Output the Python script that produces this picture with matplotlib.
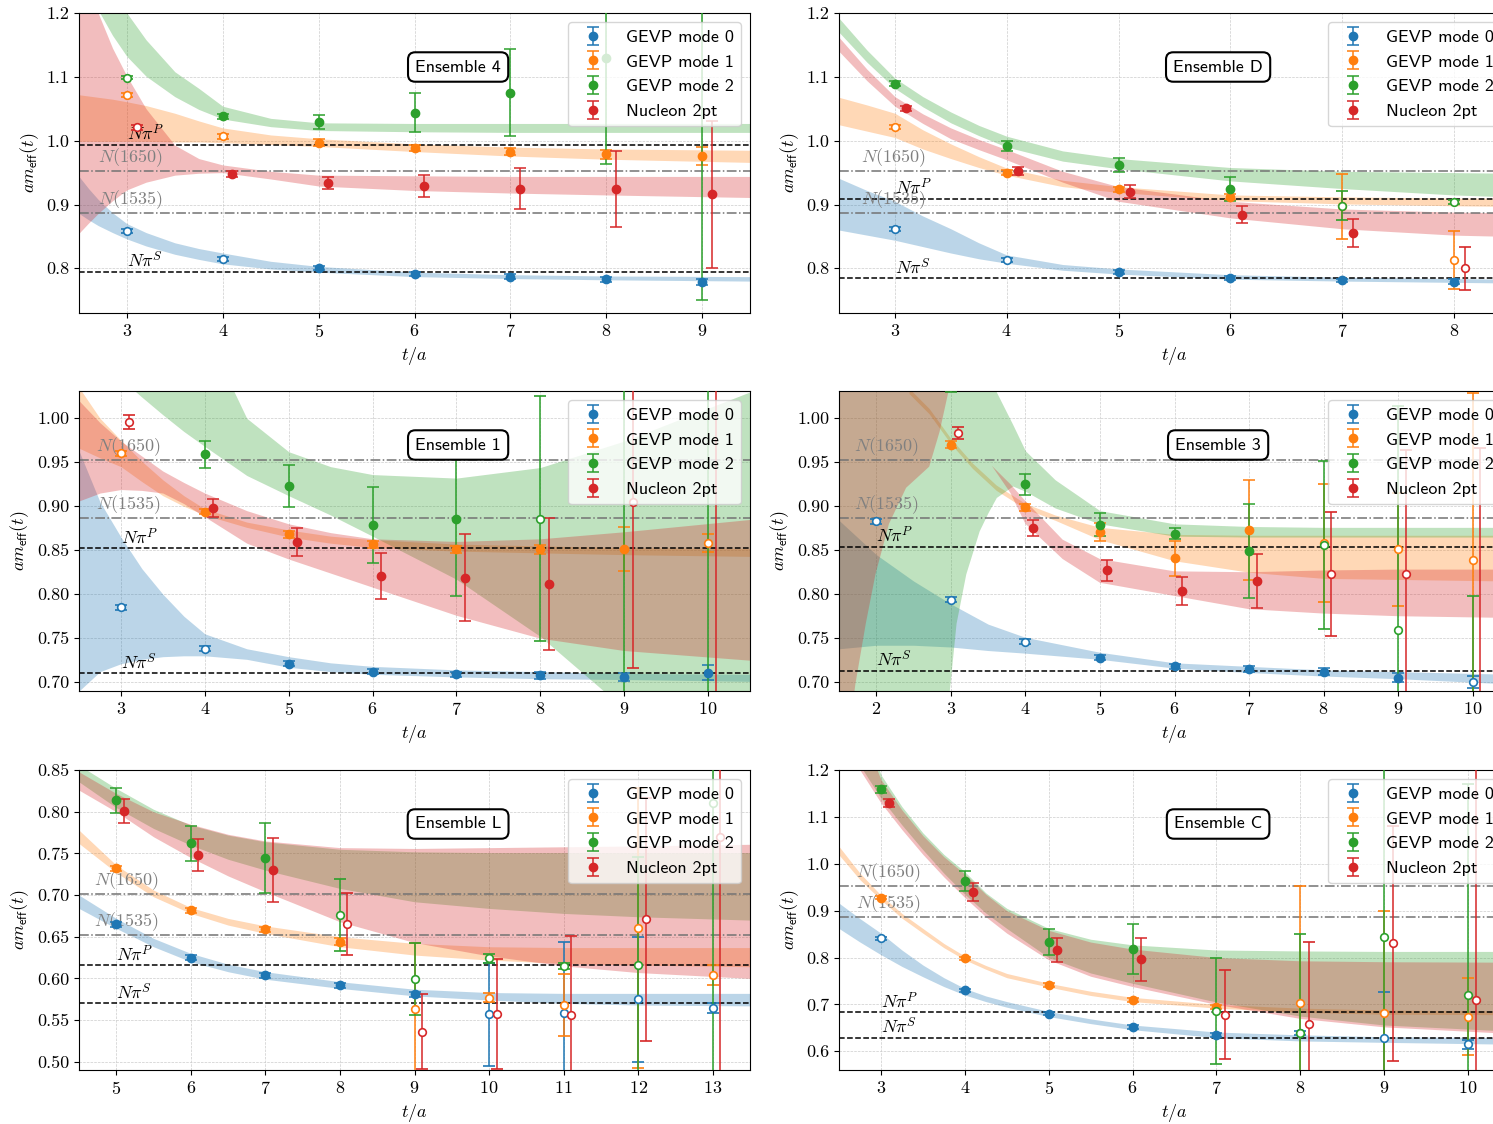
import numpy as np
import matplotlib
matplotlib.use('Agg')
import matplotlib.pyplot as plt
from matplotlib.ticker import FormatStrFormatter, MultipleLocator

plt.rcParams['font.family'] = 'serif'
plt.rcParams['font.serif'] = ['cmr10']
plt.rcParams['mathtext.fontset'] = 'cm'
plt.rcParams['axes.formatter.use_mathtext'] = True
plt.rcParams['axes.unicode_minus'] = False

nan = np.nan
COLORS = ['#1f77b4', '#ff7f0e', '#2ca02c', '#d62728']
LABELS = ['GEVP mode 0', 'GEVP mode 1', 'GEVP mode 2', 'Nucleon 2pt']
LEVEL_NAMES = [r'$N(1650)$', r'$N(1535)$', r'$N\pi^P$', r'$N\pi^S$']

# ---------------- Ensemble 4 ----------------
E4_T = [3, 4, 5, 6, 7, 8, 9]
E4_M0 = [0.858, 0.815, 0.800, 0.791, 0.787, 0.783, 0.779]
E4_E0 = [0.003, 0.003, 0.003, 0.003, 0.004, 0.004, 0.005]
E4_M1 = [1.071, 1.007, 0.997, 0.989, 0.983, 0.979, 0.976]
E4_E1 = [0.003, 0.004, 0.005, 0.005, 0.006, 0.007, 0.014]
E4_M2 = [1.099, 1.038, 1.029, 1.044, 1.075, 1.129, 1.25]
E4_E2 = [0.003, 0.004, 0.011, 0.031, 0.068, 0.165, 0.50]
E4_NUC = [1.021, 0.948, 0.934, 0.929, 0.925, 0.924, 0.916]
E4_EN = [0.004, 0.005, 0.009, 0.018, 0.032, 0.060, 0.115]
E4_FIT = [(5, 9), (5, 9), (4, 9), (4, 9)]
E4_LV = [0.953, 0.887, 0.994, 0.795]
E4_BT = [2.5, 2.6, 2.7, 2.85, 3.0, 3.2, 3.5, 3.75, 4, 4.5, 5, 6, 7, 8, 9.5]
E4_B0_LO = [0.886, 0.876, 0.867, 0.856, 0.846, 0.835, 0.822, 0.814, 0.807, 0.799, 0.794, 0.787, 0.784, 0.782, 0.780]
E4_B0_HI = [0.944, 0.925, 0.908, 0.887, 0.870, 0.856, 0.840, 0.831, 0.824, 0.811, 0.803, 0.794, 0.790, 0.788, 0.787]
E4_B1_LO = [0.999, 0.999, 0.999, 0.999, 0.999, 0.999, 0.998, 0.998, 0.997, 0.994, 0.991, 0.983, 0.976, 0.971, 0.966]
E4_B1_HI = [1.072, 1.070, 1.068, 1.065, 1.061, 1.055, 1.043, 1.031, 1.020, 1.009, 1.003, 0.995, 0.990, 0.987, 0.985]
E4_B2_LO = [1.30, 1.25, 1.205, 1.165, 1.132, 1.101, 1.069, 1.049, 1.034, 1.022, 1.016, 1.014, 1.013, 1.013, 1.013]
E4_B2_HI = [1.50, 1.42, 1.35, 1.27, 1.20, 1.158, 1.108, 1.082, 1.054, 1.035, 1.028, 1.027, 1.027, 1.027, 1.027]
E4_B3_LO = [0.855, 0.871, 0.886, 0.906, 0.923, 0.935, 0.946, 0.949, 0.950, 0.940, 0.929, 0.922, 0.918, 0.915, 0.911]
E4_B3_HI = [1.30, 1.24, 1.20, 1.145, 1.101, 1.050, 0.993, 0.972, 0.962, 0.952, 0.946, 0.945, 0.944, 0.944, 0.944]

# ---------------- Ensemble D ----------------
ED_T = [3, 4, 5, 6, 7, 8]
ED_M0 = [0.862, 0.813, 0.794, 0.785, 0.781, 0.779]
ED_E0 = [0.003, 0.003, 0.003, 0.003, 0.003, 0.004]
ED_M1 = [1.022, 0.950, 0.924, 0.912, 0.897, 0.813]
ED_E1 = [0.003, 0.004, 0.004, 0.005, 0.051, 0.046]
ED_M2 = [1.089, 0.992, 0.962, 0.924, 0.898, 0.904]
ED_E2 = [0.004, 0.008, 0.011, 0.019, 0.023, 0.003]
ED_NUC = [1.051, 0.952, 0.920, 0.884, 0.856, 0.800]
ED_EN = [0.004, 0.006, 0.010, 0.013, 0.022, 0.034]
ED_FIT = [(5, 8), (4, 6), (3, 6), (3, 7)]
ED_LV = [0.953, 0.887, 0.909, 0.785]
ED_BT = [2.5, 2.75, 3, 3.25, 3.5, 3.75, 4, 4.5, 5, 6, 7, 8, 8.5]
ED_B0_LO = [0.860, 0.852, 0.844, 0.834, 0.824, 0.815, 0.808, 0.797, 0.791, 0.783, 0.780, 0.778, 0.777]
ED_B0_HI = [0.941, 0.922, 0.905, 0.882, 0.862, 0.840, 0.821, 0.806, 0.799, 0.790, 0.786, 0.784, 0.783]
ED_B1_LO = [1.025, 1.015, 1.005, 0.987, 0.972, 0.958, 0.946, 0.928, 0.919, 0.906, 0.901, 0.898, 0.897]
ED_B1_HI = [1.068, 1.056, 1.043, 1.017, 0.995, 0.975, 0.957, 0.938, 0.928, 0.915, 0.912, 0.910, 0.910]
ED_B2_LO = [1.170, 1.123, 1.082, 1.053, 1.028, 1.008, 0.990, 0.968, 0.956, 0.937, 0.925, 0.915, 0.912]
ED_B2_HI = [1.192, 1.142, 1.098, 1.069, 1.045, 1.024, 1.007, 0.984, 0.972, 0.958, 0.952, 0.950, 0.949]
ED_B3_LO = [1.140, 1.094, 1.054, 1.027, 1.003, 0.986, 0.970, 0.935, 0.905, 0.879, 0.862, 0.852, 0.850]
ED_B3_HI = [1.162, 1.112, 1.069, 1.042, 1.020, 1.002, 0.986, 0.952, 0.928, 0.905, 0.893, 0.888, 0.887]

# ---------------- Ensemble 1 ----------------
E1_T = [3, 4, 5, 6, 7, 8, 9, 10]
E1_M0 = [0.785, 0.738, 0.721, 0.712, 0.709, 0.708, 0.706, 0.711]
E1_E0 = [0.003, 0.003, 0.003, 0.003, 0.003, 0.004, 0.005, 0.008]
E1_M1 = [0.960, 0.894, 0.868, 0.857, 0.851, 0.851, 0.851, 0.858]
E1_E1 = [0.003, 0.003, 0.004, 0.004, 0.004, 0.005, 0.025, 0.010]
E1_M2 = [nan, 0.959, 0.923, 0.879, 0.885, 0.886, 1.10, 1.10]
E1_E2 = [nan, 0.015, 0.024, 0.043, 0.087, 0.139, 0.45, 0.45]
E1_NUC = [0.996, 0.898, 0.859, 0.821, 0.819, 0.812, 0.905, 1.08]
E1_EN = [0.008, 0.010, 0.016, 0.026, 0.050, 0.075, 0.189, 0.42]
E1_FIT = [(5, 10), (4, 9), (4, 7), (4, 8)]
E1_LV = [0.953, 0.887, 0.852, 0.710]
E1_BT = [2.5, 2.75, 3, 3.25, 3.5, 3.75, 4, 4.5, 5, 5.5, 6, 7, 8, 9, 10.5]
E1_B0_LO = [0.690, 0.712, 0.721, 0.726, 0.729, 0.730, 0.730, 0.726, 0.717, 0.712, 0.709, 0.706, 0.704, 0.703, 0.701]
E1_B0_HI = [0.963, 0.905, 0.865, 0.829, 0.800, 0.775, 0.755, 0.738, 0.729, 0.722, 0.718, 0.714, 0.712, 0.710, 0.709]
E1_B1_LO = [0.966, 0.955, 0.945, 0.928, 0.912, 0.900, 0.890, 0.876, 0.865, 0.858, 0.853, 0.849, 0.847, 0.845, 0.843]
E1_B1_HI = [1.035, 1.000, 0.975, 0.951, 0.930, 0.912, 0.897, 0.882, 0.873, 0.866, 0.862, 0.857, 0.855, 0.853, 0.852]
E1_B2_LO = [1.15, 1.10, 1.045, 1.024, 1.004, 0.985, 0.968, 0.935, 0.912, 0.890, 0.866, 0.817, 0.752, 0.67, 0.57]
E1_B2_HI = [1.40, 1.35, 1.30, 1.25, 1.20, 1.15, 1.10, 1.00, 0.962, 0.945, 0.936, 0.932, 0.944, 0.974, 1.03]
E1_B3_LO = [0.906, 0.915, 0.919, 0.918, 0.915, 0.903, 0.888, 0.858, 0.840, 0.824, 0.808, 0.776, 0.750, 0.736, 0.725]
E1_B3_HI = [1.02, 0.995, 0.974, 0.957, 0.940, 0.927, 0.915, 0.895, 0.880, 0.870, 0.863, 0.860, 0.863, 0.871, 0.885]

# ---------------- Ensemble 3 ----------------
E3_T = [2, 3, 4, 5, 6, 7, 8, 9, 10]
E3_M0 = [0.883, 0.794, 0.746, 0.728, 0.718, 0.715, 0.712, 0.705, 0.700]
E3_E0 = [0.003, 0.003, 0.003, 0.003, 0.003, 0.003, 0.004, 0.005, 0.007]
E3_M1 = [nan, 0.970, 0.899, 0.871, 0.841, 0.873, 0.858, 0.851, 0.839]
E3_E1 = [nan, 0.004, 0.004, 0.010, 0.020, 0.057, 0.067, 0.064, 0.19]
E3_M2 = [nan, 1.040, 0.925, 0.879, 0.869, 0.849, 0.856, 0.759, 0.60]
E3_E2 = [nan, 0.010, 0.012, 0.013, 0.006, 0.053, 0.096, 0.255, 0.198]
E3_NUC = [nan, 0.983, 0.875, 0.827, 0.804, 0.815, 0.823, 0.823, 0.62]
E3_EN = [nan, 0.007, 0.009, 0.012, 0.016, 0.031, 0.070, 0.141, 0.346]
E3_FIT = [(5, 9), (3, 7), (3, 7), (4, 7)]
E3_LV = [0.953, 0.887, 0.854, 0.713]
E3_BT0 = [1.5, 2, 2.5, 3, 3.5, 4, 5, 6, 7, 8, 9, 10.5]
E3_B0_LO = [0.738, 0.742, 0.742, 0.740, 0.736, 0.733, 0.726, 0.716, 0.711, 0.707, 0.704, 0.698]
E3_B0_HI = [0.884, 0.845, 0.815, 0.789, 0.766, 0.751, 0.734, 0.722, 0.718, 0.714, 0.712, 0.709]
E3_BT1 = [2.44, 2.71, 3.0, 3.29, 3.61, 4.0, 4.4, 5, 6, 7, 8, 10.5]
E3_B1_LO = [1.028, 1.005, 0.971, 0.943, 0.918, 0.897, 0.884, 0.862, 0.838, 0.825, 0.818, 0.815]
E3_B1_HI = [1.034, 1.011, 0.977, 0.949, 0.924, 0.903, 0.890, 0.876, 0.868, 0.867, 0.867, 0.867]
E3_BT2 = [1.5, 2.95, 2.98, 3.07, 3.2, 3.38, 3.5, 3.61, 3.83, 4.0, 4.4, 5, 6, 7, 8, 10.5]
E3_B2_LO = [0.5, 0.5, 0.691, 0.767, 0.823, 0.872, 0.893, 0.910, 0.923, 0.917, 0.898, 0.880, 0.866, 0.865, 0.865, 0.865]
E3_B2_HI = [1.3, 1.3, 1.3, 1.3, 1.3, 1.3, 1.2, 1.03, 0.993, 0.963, 0.930, 0.895, 0.880, 0.877, 0.876, 0.876]
E3_BT3 = [1.5, 1.72, 1.86, 1.99, 2.17, 2.40, 2.71, 2.85, 2.98, 3.2, 3.55, 3.8, 4.0, 4.5, 5, 6, 7, 8, 9, 10.5]
E3_B3_LO = [0.55, 0.698, 0.767, 0.823, 0.880, 0.921, 0.945, 0.985, 1.035, nan,
            0.946, 0.915, 0.880, 0.840, 0.813, 0.798, 0.783, 0.778, 0.775, 0.773]
E3_B3_HI = [1.3, 1.3, 1.3, 1.3, 1.3, 1.3, 1.3, 1.3, 1.3, nan,
            0.946, 0.925, 0.906, 0.862, 0.840, 0.826, 0.825, 0.827, 0.828, 0.828]

# ---------------- Ensemble L ----------------
EL_T = [5, 6, 7, 8, 9, 10, 11, 12, 13]
EL_M0 = [0.665, 0.625, 0.604, 0.592, 0.581, 0.557, 0.558, 0.575, 0.565]
EL_E0 = [0.003, 0.003, 0.003, 0.003, 0.003, 0.062, 0.086, 0.075, 0.006]
EL_M1 = [0.732, 0.682, 0.659, 0.644, 0.563, 0.577, 0.568, 0.660, 0.604]
EL_E1 = [0.003, 0.003, 0.003, 0.004, 0.079, 0.005, 0.037, 0.168, 0.012]
EL_M2 = [0.814, 0.762, 0.745, 0.676, 0.599, 0.624, 0.615, 0.616, 0.81]
EL_E2 = [0.015, 0.021, 0.042, 0.043, 0.043, 0.005, 0.004, 0.13, 0.40]
EL_NUC = [0.801, 0.748, 0.730, 0.665, 0.536, 0.557, 0.556, 0.671, 0.770]
EL_EN = [0.014, 0.019, 0.038, 0.037, 0.045, 0.066, 0.095, 0.146, 0.30]
EL_FIT = [(5, 9), (5, 8), (5, 7), (5, 7)]
EL_LV = [0.701, 0.652, 0.616, 0.570]
EL_BT = [4.5, 5, 5.5, 6, 6.5, 7, 8, 9, 10, 11, 12, 13.5]
EL_B0_LO = [0.684, 0.660, 0.638, 0.620, 0.608, 0.599, 0.588, 0.579, 0.574, 0.570, 0.568, 0.567]
EL_B0_HI = [0.700, 0.672, 0.648, 0.630, 0.617, 0.608, 0.596, 0.587, 0.583, 0.582, 0.582, 0.582]
EL_B1_LO = [0.762, 0.727, 0.698, 0.678, 0.664, 0.654, 0.638, 0.628, 0.622, 0.618, 0.616, 0.614]
EL_B1_HI = [0.778, 0.736, 0.706, 0.685, 0.672, 0.663, 0.650, 0.642, 0.638, 0.637, 0.637, 0.637]
EL_B2_LO = [0.836, 0.805, 0.780, 0.760, 0.743, 0.730, 0.708, 0.692, 0.684, 0.678, 0.674, 0.670]
EL_B2_HI = [0.856, 0.828, 0.803, 0.784, 0.772, 0.764, 0.755, 0.752, 0.751, 0.751, 0.751, 0.751]
EL_B3_LO = [0.826, 0.800, 0.770, 0.745, 0.723, 0.704, 0.668, 0.643, 0.627, 0.615, 0.607, 0.600]
EL_B3_HI = [0.848, 0.822, 0.800, 0.785, 0.773, 0.765, 0.757, 0.756, 0.757, 0.758, 0.759, 0.761]

# ---------------- Ensemble C ----------------
EC_T = [3, 4, 5, 6, 7, 8, 9, 10]
EC_M0 = [0.841, 0.730, 0.680, 0.652, 0.635, 0.639, 0.629, 0.615]
EC_E0 = [0.003, 0.003, 0.003, 0.004, 0.005, 0.005, 0.097, 0.010]
EC_M1 = [0.928, 0.798, 0.742, 0.710, 0.695, 0.702, 0.681, 0.674]
EC_E1 = [0.004, 0.004, 0.004, 0.004, 0.004, 0.25, 0.219, 0.083]
EC_M2 = [1.159, 0.963, 0.833, 0.818, 0.685, 0.639, 0.843, 0.720]
EC_E2 = [0.008, 0.021, 0.028, 0.053, 0.113, 0.211, 0.40, 0.45]
EC_NUC = [1.130, 0.940, 0.816, 0.796, 0.678, 0.658, 0.830, 0.710]
EC_EN = [0.008, 0.019, 0.025, 0.046, 0.095, 0.176, 0.25, 0.50]
EC_FIT = [(4, 7), (3, 7), (3, 6), (3, 6)]
EC_LV = [0.953, 0.886, 0.684, 0.629]
EC_BT = [2.5, 2.75, 3, 3.25, 3.5, 3.75, 4, 4.25, 4.5, 5, 5.5, 6, 7, 8, 9, 10.5]
EC_B0_LO = [0.862, 0.833, 0.806, 0.781, 0.759, 0.738, 0.720, 0.706, 0.694, 0.674, 0.659, 0.646, 0.629, 0.622, 0.619, 0.615]
EC_B0_HI = [0.916, 0.883, 0.852, 0.816, 0.784, 0.757, 0.734, 0.718, 0.706, 0.685, 0.669, 0.656, 0.641, 0.635, 0.631, 0.629]
EC_B1_LO = [1.019, 0.966, 0.923, 0.884, 0.852, 0.821, 0.795, 0.775, 0.757, 0.737, 0.719, 0.706, 0.692, 0.683, 0.679, 0.678]
EC_B1_HI = [1.037, 0.980, 0.933, 0.894, 0.862, 0.830, 0.803, 0.783, 0.766, 0.745, 0.728, 0.715, 0.700, 0.692, 0.688, 0.686]
EC_B2_LO = [1.30, 1.21, 1.14, 1.083, 1.03, 0.98, 0.935, 0.895, 0.862, 0.80, 0.767, 0.745, 0.705, 0.675, 0.656, 0.643]
EC_B2_HI = [1.45, 1.31, 1.19, 1.122, 1.066, 1.020, 0.983, 0.938, 0.905, 0.862, 0.839, 0.827, 0.816, 0.814, 0.813, 0.813]
EC_B3_LO = [1.28, 1.20, 1.13, 1.073, 1.02, 0.972, 0.928, 0.887, 0.852, 0.795, 0.760, 0.738, 0.700, 0.670, 0.652, 0.638]
EC_B3_HI = [1.43, 1.29, 1.18, 1.115, 1.06, 1.015, 0.978, 0.935, 0.90, 0.858, 0.833, 0.818, 0.800, 0.793, 0.791, 0.790]


def draw_panel(ax, name, t, vals, errs, fits, levels, bands, xlim, ylim, ystep, yfmt):
    t = np.array(t, float)
    for k, (bt, blo, bhi) in enumerate(bands):
        ax.fill_between(np.array(bt, float), np.array(blo, float), np.array(bhi, float),
                        color=COLORS[k], alpha=0.3, lw=0, zorder=1)

    for j, v in enumerate(levels):
        if j < 2:
            ax.axhline(v, color='0.45', ls='-.', lw=1.1, zorder=2)
            xt, col = xlim[0] + 0.2, '0.5'
        else:
            ax.axhline(v, color='k', ls='--', lw=1.1, zorder=2)
            xt, col = xlim[0] + 0.5, 'k'
        ax.annotate(LEVEL_NAMES[j], (xt, v), xytext=(0, 1.5), textcoords='offset points',
                    ha='left', va='bottom', fontsize=13, color=col, zorder=3)

    for k in range(4):
        c = COLORS[k]
        x = t + (0.1 if k == 3 else 0.0)
        y = np.array(vals[k], float)
        e = np.array(errs[k], float)
        inside = (t >= fits[k][0]) & (t <= fits[k][1])
        ax.errorbar(x[inside], y[inside], yerr=e[inside], fmt='o', color=c, ms=6,
                    capsize=4, elinewidth=1.1, capthick=1.1, zorder=4, label=LABELS[k])
        ax.errorbar(x[~inside], y[~inside], yerr=e[~inside], fmt='o', color=c, ms=5.5,
                    mfc='white', mec=c, mew=1.2, capsize=4, elinewidth=1.1,
                    capthick=1.1, zorder=4)

    ax.set_xlim(*xlim)
    ax.set_ylim(*ylim)
    ax.xaxis.set_major_locator(MultipleLocator(1))
    ax.yaxis.set_major_locator(MultipleLocator(ystep))
    ax.yaxis.set_major_formatter(FormatStrFormatter(yfmt))
    ax.tick_params(labelsize=13)
    ax.grid(True, ls='--', lw=0.5, color='#cccccc', zorder=0)
    ax.set_axisbelow(True)
    ax.set_xlabel(r'$t/a$', fontsize=13)
    ax.set_ylabel(r'$am_{\mathsf{eff}}(t)$', fontsize=13)
    ax.legend(loc='upper right', prop={'family': 'cmss10', 'size': 13},
              framealpha=0.8, edgecolor='0.8')
    ax.text(0.565, 0.82, name, transform=ax.transAxes, ha='center', va='center',
            fontfamily='cmss10', fontsize=13, zorder=6,
            bbox=dict(boxstyle='round,pad=0.4', fc='white', ec='black', lw=1.5))


fig = plt.figure(figsize=(14.93, 11.24), dpi=100)
W, H = 1493.0, 1124.0
cols = [79, 839]
rows = [313, 691, 1070]
aw, ah = 671, 300

def make_ax(col, row):
    return fig.add_axes([cols[col] / W, 1 - rows[row] / H, aw / W, ah / H])

draw_panel(make_ax(0, 0), 'Ensemble 4', E4_T,
           [E4_M0, E4_M1, E4_M2, E4_NUC], [E4_E0, E4_E1, E4_E2, E4_EN], E4_FIT, E4_LV,
           [(E4_BT, E4_B0_LO, E4_B0_HI), (E4_BT, E4_B1_LO, E4_B1_HI),
            (E4_BT, E4_B2_LO, E4_B2_HI), (E4_BT, E4_B3_LO, E4_B3_HI)],
           (2.5, 9.5), (0.73, 1.2001), 0.1, '%.1f')

draw_panel(make_ax(1, 0), 'Ensemble D', ED_T,
           [ED_M0, ED_M1, ED_M2, ED_NUC], [ED_E0, ED_E1, ED_E2, ED_EN], ED_FIT, ED_LV,
           [(ED_BT, ED_B0_LO, ED_B0_HI), (ED_BT, ED_B1_LO, ED_B1_HI),
            (ED_BT, ED_B2_LO, ED_B2_HI), (ED_BT, ED_B3_LO, ED_B3_HI)],
           (2.5, 8.5), (0.73, 1.2001), 0.1, '%.1f')

draw_panel(make_ax(0, 1), 'Ensemble 1', E1_T,
           [E1_M0, E1_M1, E1_M2, E1_NUC], [E1_E0, E1_E1, E1_E2, E1_EN], E1_FIT, E1_LV,
           [(E1_BT, E1_B0_LO, E1_B0_HI), (E1_BT, E1_B1_LO, E1_B1_HI),
            (E1_BT, E1_B2_LO, E1_B2_HI), (E1_BT, E1_B3_LO, E1_B3_HI)],
           (2.5, 10.5), (0.69, 1.031), 0.05, '%.2f')

draw_panel(make_ax(1, 1), 'Ensemble 3', E3_T,
           [E3_M0, E3_M1, E3_M2, E3_NUC], [E3_E0, E3_E1, E3_E2, E3_EN], E3_FIT, E3_LV,
           [(E3_BT0, E3_B0_LO, E3_B0_HI), (E3_BT1, E3_B1_LO, E3_B1_HI),
            (E3_BT2, E3_B2_LO, E3_B2_HI), (E3_BT3, E3_B3_LO, E3_B3_HI)],
           (1.5, 10.5), (0.69, 1.031), 0.05, '%.2f')

draw_panel(make_ax(0, 2), 'Ensemble L', EL_T,
           [EL_M0, EL_M1, EL_M2, EL_NUC], [EL_E0, EL_E1, EL_E2, EL_EN], EL_FIT, EL_LV,
           [(EL_BT, EL_B0_LO, EL_B0_HI), (EL_BT, EL_B1_LO, EL_B1_HI),
            (EL_BT, EL_B2_LO, EL_B2_HI), (EL_BT, EL_B3_LO, EL_B3_HI)],
           (4.5, 13.5), (0.49, 0.8502), 0.05, '%.2f')

draw_panel(make_ax(1, 2), 'Ensemble C', EC_T,
           [EC_M0, EC_M1, EC_M2, EC_NUC], [EC_E0, EC_E1, EC_E2, EC_EN], EC_FIT, EC_LV,
           [(EC_BT, EC_B0_LO, EC_B0_HI), (EC_BT, EC_B1_LO, EC_B1_HI),
            (EC_BT, EC_B2_LO, EC_B2_HI), (EC_BT, EC_B3_LO, EC_B3_HI)],
           (2.5, 10.5), (0.56, 1.2001), 0.1, '%.1f')

fig.savefig('out.png', dpi=100)
